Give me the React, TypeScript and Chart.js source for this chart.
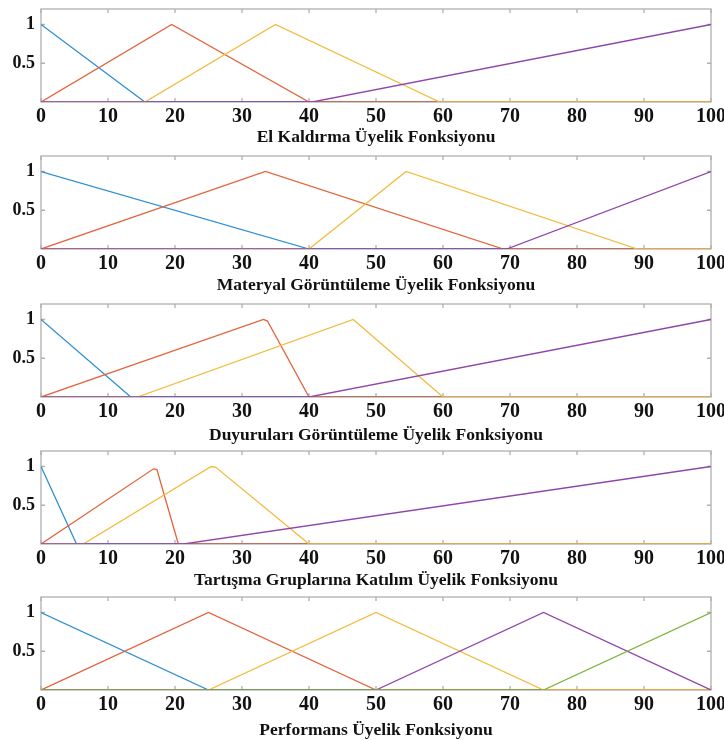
import React, { useEffect, useRef } from "react";
import { Chart, registerables } from "chart.js";

Chart.register(...registerables);

type Pt = [number, number];

const xTickValues = [0, 10, 20, 30, 40, 50, 60, 70, 80, 90, 100];
const yTickValues = [0.5, 1];

// Panel 1: El Kaldırma
const p1Blue: Pt[] = [[0, 1], [15.5, 0], [100, 0]];
const p1Orange: Pt[] = [[0, 0], [19.5, 1], [40, 0], [100, 0]];
const p1Yellow: Pt[] = [[0, 0], [15.5, 0], [35, 1], [59.5, 0], [100, 0]];
const p1Purple: Pt[] = [[0, 0], [40.5, 0], [100, 1]];

// Panel 2: Materyal Görüntüleme
const p2Blue: Pt[] = [[0, 1], [40, 0], [100, 0]];
const p2Orange: Pt[] = [[0, 0], [33.5, 1], [69, 0], [100, 0]];
const p2Yellow: Pt[] = [[0, 0], [40, 0], [54.5, 1], [89, 0], [100, 0]];
const p2Purple: Pt[] = [[0, 0], [69.5, 0], [100, 1]];

// Panel 3: Duyuruları Görüntüleme
const p3Blue: Pt[] = [[0, 1], [13.4, 0], [100, 0]];
const p3Orange: Pt[] = [[0, 0], [33.2, 1], [33.8, 0.98], [40, 0], [100, 0]];
const p3Yellow: Pt[] = [[0, 0], [14.4, 0], [46.6, 1], [60, 0], [100, 0]];
const p3Purple: Pt[] = [[0, 0], [40, 0], [100, 1]];

// Panel 4: Tartışma Gruplarına Katılım
const p4Blue: Pt[] = [[0, 1], [5.3, 0], [100, 0]];
const p4Orange: Pt[] = [[0, 0], [16.8, 0.97], [17.3, 0.96], [20.5, 0], [100, 0]];
const p4Yellow: Pt[] = [[0, 0], [6.3, 0], [25.4, 1], [26.1, 0.99], [40, 0], [100, 0]];
const p4Purple: Pt[] = [[0, 0], [21.3, 0], [100, 1]];

// Panel 5: Performans
const p5Blue: Pt[] = [[0, 1], [25, 0], [100, 0]];
const p5Orange: Pt[] = [[0, 0], [25, 1], [50, 0], [100, 0]];
const p5Yellow: Pt[] = [[0, 0], [25, 0], [50, 1], [75, 0], [100, 0]];
const p5Purple: Pt[] = [[0, 0], [50, 0], [75, 1], [100, 0]];
const p5Green: Pt[] = [[0, 0], [75, 0], [100, 1]];

const panelTitles = [
  "El Kaldırma Üyelik Fonksiyonu",
  "Materyal Görüntüleme Üyelik Fonksiyonu",
  "Duyuruları Görüntüleme Üyelik Fonksiyonu",
  "Tartışma Gruplarına Katılım Üyelik Fonksiyonu",
  "Performans Üyelik Fonksiyonu",
];

const panelSeries: Pt[][][] = [
  [p1Blue, p1Orange, p1Yellow, p1Purple],
  [p2Blue, p2Orange, p2Yellow, p2Purple],
  [p3Blue, p3Orange, p3Yellow, p3Purple],
  [p4Blue, p4Orange, p4Yellow, p4Purple],
  [p5Blue, p5Orange, p5Yellow, p5Purple, p5Green],
];

const seriesColors = ["#2f8fd3", "#e4623a", "#f2bb3e", "#8f45a9", "#7db33c"];

// layout constants
const panelTops = [0, 147, 295, 442, 588];
const titlePadBottom = [6, 5, 3, 5, 1];
const CANVAS_W = 724;
const CANVAS_H = 152;
const SERIF = "'Liberation Serif', 'Times New Roman', serif";

const framePlugin = {
  id: "matlabFrame",
  beforeDatasetsDraw(chart: any) {
    const { ctx, chartArea, scales } = chart;
    const { left, right, top, bottom } = chartArea;
    ctx.save();
    ctx.strokeStyle = "#b0b0b0";
    ctx.lineWidth = 1.3;
    ctx.strokeRect(left, top, right - left, bottom - top);
    ctx.beginPath();
    for (const v of xTickValues) {
      const px = scales.x.getPixelForValue(v);
      ctx.moveTo(px, top);
      ctx.lineTo(px, top + 4);
      ctx.moveTo(px, bottom);
      ctx.lineTo(px, bottom - 4);
    }
    for (const v of yTickValues) {
      const py = scales.y.getPixelForValue(v);
      ctx.moveTo(left, py);
      ctx.lineTo(left + 4, py);
      ctx.moveTo(right, py);
      ctx.lineTo(right - 4, py);
    }
    ctx.stroke();
    ctx.restore();
  },
};

function Panel({ index }: { index: number }) {
  const ref = useRef<HTMLCanvasElement | null>(null);
  useEffect(() => {
    if (!ref.current) return;
    const series = panelSeries[index];
    const chart = new Chart(ref.current, {
      type: "line",
      data: {
        datasets: series.map((s, i) => ({
          data: s.map(([x, y]) => ({ x, y })),
          borderColor: seriesColors[i],
          borderWidth: 1.3,
          pointRadius: 0,
          tension: 0,
          fill: false,
          order: series.length - i,
        })),
      },
      options: {
        responsive: false,
        animation: false,
        devicePixelRatio: 1,
        layout: { padding: { top: 9, right: 13, left: 0, bottom: 0 } },
        plugins: { legend: { display: false }, tooltip: { enabled: false } },
        scales: {
          x: {
            type: "linear",
            min: 0,
            max: 100,
            afterBuildTicks: (scale: any) => {
              scale.ticks = xTickValues.map((v) => ({ value: v }));
            },
            afterFit: (scale: any) => {
              scale.height = 50;
              scale.paddingLeft = 0;
              scale.paddingRight = 0;
            },
            ticks: {
              autoSkip: false,
              maxRotation: 0,
              padding: 3,
              color: "#111",
              font: { family: SERIF, size: 20, weight: "bold" },
            },
            grid: { display: false, drawTicks: false },
            border: { display: false },
            title: {
              display: true,
              text: panelTitles[index],
              color: "#111",
              padding: { top: 0, bottom: titlePadBottom[index] },
              font: { family: SERIF, size: 17.5, weight: "bold", lineHeight: 1 },
            },
          },
          y: {
            type: "linear",
            min: 0,
            max: 1.2,
            afterBuildTicks: (scale: any) => {
              scale.ticks = yTickValues.map((v) => ({ value: v }));
            },
            afterFit: (scale: any) => {
              scale.width = 41;
              scale.paddingTop = 0;
              scale.paddingBottom = 0;
            },
            ticks: {
              padding: 6,
              color: "#111",
              font: { family: SERIF, size: 18, weight: "bold" },
              callback: (v: any) => String(v),
            },
            grid: { display: false, drawTicks: false },
            border: { display: false },
          },
        },
      },
      plugins: [framePlugin],
    } as any);
    return () => chart.destroy();
  }, [index]);
  return (
    <canvas
      ref={ref}
      width={CANVAS_W}
      height={CANVAS_H}
      style={{ position: "absolute", left: 0, top: panelTops[index], width: CANVAS_W, height: CANVAS_H }}
    />
  );
}

export default function App() {
  return (
    <div
      style={{
        position: "absolute",
        left: 0,
        top: 0,
        width: 724,
        height: 740,
        overflow: "hidden",
        background: "#fff",
      }}
    >
      {panelTitles.map((_, i) => (
        <Panel key={i} index={i} />
      ))}
    </div>
  );
}
